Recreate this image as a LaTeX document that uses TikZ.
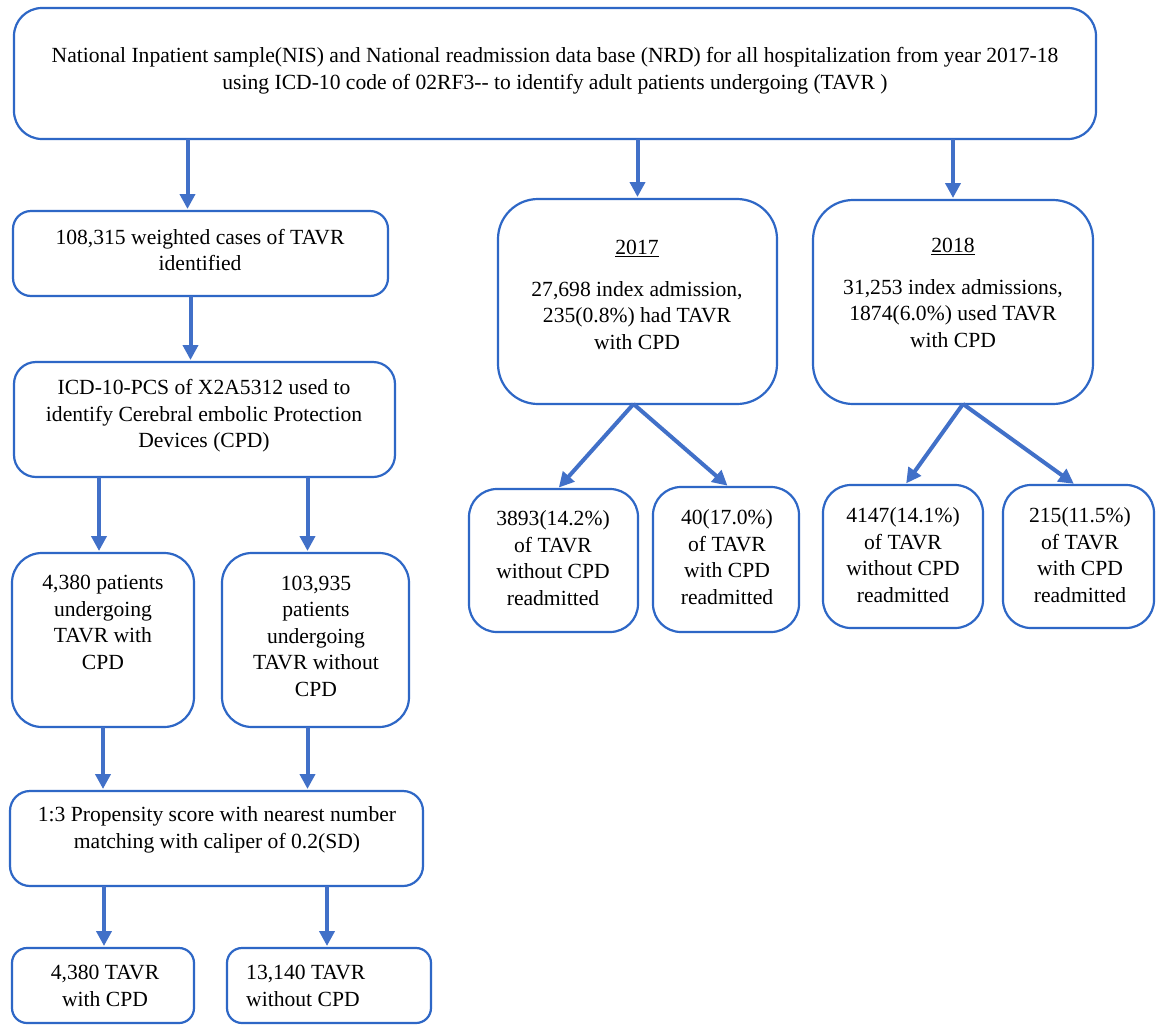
\documentclass[tikz,border=0pt]{standalone}
\usepackage{fontspec}
\setmainfont{Liberation Serif}
\usetikzlibrary{arrows.meta}
\definecolor{boxc}{HTML}{2E67C6}
\definecolor{arrc}{HTML}{4170C8}
\newcommand\mybox[6]{%
  \node[bx, rounded corners=#6pt, minimum width={(#4-#2)*1pt}, minimum height={(#5-#3)*1pt}]
    (#1) at ({(#2+#4)/2},{(#3+#5)/2}) {};}
\begin{document}
\begin{tikzpicture}[x=1pt,y=-1pt,
  bx/.style={draw=boxc, line width=2.2pt, inner sep=0pt, outer sep=0pt, fill=none},
  txt/.style={align=center, inner sep=0pt, font=\fontsize{21.6}{26.5}\selectfont, text=black},
  arr/.style={draw=arrc, line width=4pt, -{Triangle[length=15pt,width=15pt]}, shorten >=2pt}]
\useasboundingbox (0,0) rectangle (1157,1026);
\fill[white] (0,0) rectangle (1157,1026);

% boxes
\mybox{top}{14}{8}{1096}{139}{28}
\mybox{b108}{13}{211}{388}{296}{18}
\mybox{icd}{14}{362}{395}{477}{22}
\mybox{p4380}{12}{553}{194}{727}{30}
\mybox{p103}{222}{553}{409}{727}{30}
\mybox{prop}{10}{791}{423}{886}{20}
\mybox{t4380}{12}{948}{194}{1023}{15}
\mybox{t13140}{227}{948}{431}{1023}{15}
\mybox{y2017}{498}{199}{777}{404}{40}
\mybox{y2018}{813}{200}{1093}{404}{40}
\mybox{r3893}{469}{489}{638}{632}{28}
\mybox{r40}{653}{487}{799}{632}{28}
\mybox{r4147}{823}{485}{983}{628}{28}
\mybox{r215}{1003}{485}{1154}{628}{28}

% texts
\node[txt] (topT) at (555,70.5) {National Inpatient sample(NIS) and National readmission data base (NRD) for all hospitalization from year 2017-18\\using ICD-10 code of 02RF3-{}- to identify adult patients undergoing (TAVR )};
\node[txt] (b108T) at (200,250) {108,315 weighted cases of TAVR\\identified};
\node[txt] (icdT) at (204,416) {ICD-10-PCS of X2A5312 used to\\identify Cerebral embolic Protection\\Devices (CPD)};
\node[txt] (p4380T) at (103,622.5) {4,380 patients\\undergoing\\TAVR with\\CPD};
\node[txt] (p103T) at (316,636) {103,935\\patients\\undergoing\\TAVR without\\CPD};
\node[txt] (propT) at (217,830) {1:3 Propensity score with nearest number\\matching with caliper of 0.2(SD)};
\node[txt] (t4380T) at (105,986) {4,380 TAVR\\with CPD};
\node[txt, align=left, anchor=west] (t13140T) at (246,986) {13,140 TAVR\\without CPD};
\node[txt] (y2017T) at (637,295) {\underline{2017}\\[15pt]27,698 index admission,\\235(0.8\%) had TAVR\\with CPD};
\node[txt] (y2018T) at (953,293) {\underline{2018}\\[15pt]31,253 index admissions,\\1874(6.0\%) used TAVR\\with CPD};
\node[txt] (r3893T) at (553,558) {3893(14.2\%)\\of TAVR\\without CPD\\readmitted};
\node[txt] (r40T) at (727,557) {40(17.0\%)\\of TAVR\\with CPD\\readmitted};
\node[txt] (r4147T) at (903,555) {4147(14.1\%)\\of TAVR\\without CPD\\readmitted};
\node[txt] (r215T) at (1080,555) {215(11.5\%)\\of TAVR\\with CPD\\readmitted};

% connectors
\draw[arr] ([xshift=-13pt]b108.north |- top.south) -- ([xshift=-13pt]b108.north);
\draw[arr] (y2017.north |- top.south) -- (y2017.north);
\draw[arr] (y2018.north |- top.south) -- (y2018.north);
\draw[arr] ([xshift=-10pt]b108.south) -- ([xshift=-10pt]b108.south |- icd.north);
\draw[arr] ([xshift=-4pt]p4380.north |- icd.south) -- ([xshift=-4pt]p4380.north);
\draw[arr] ([xshift=-8pt]p103.north |- icd.south) -- ([xshift=-8pt]p103.north);
\draw[arr] (p4380.south) -- (p4380.south |- prop.north);
\draw[arr] ([xshift=-8pt]p103.south) -- ([xshift=-8pt]p103.south |- prop.north);
\draw[arr] ([xshift=1pt]t4380.north |- prop.south) -- ([xshift=1pt]t4380.north);
\draw[arr] ([xshift=-2pt]t13140.north |- prop.south) -- ([xshift=-2pt]t13140.north);
\draw[arr] ([xshift=-4pt]y2017.south) -- ([xshift=4pt]r3893.north);
\draw[arr] ([xshift=-4pt]y2017.south) -- ([xshift=3pt]r40.north);
\draw[arr] ([xshift=10pt]y2018.south) -- ([xshift=2pt]r4147.north);
\draw[arr] ([xshift=10pt]y2018.south) -- ([xshift=-3pt]r215.north);
\end{tikzpicture}
\end{document}
